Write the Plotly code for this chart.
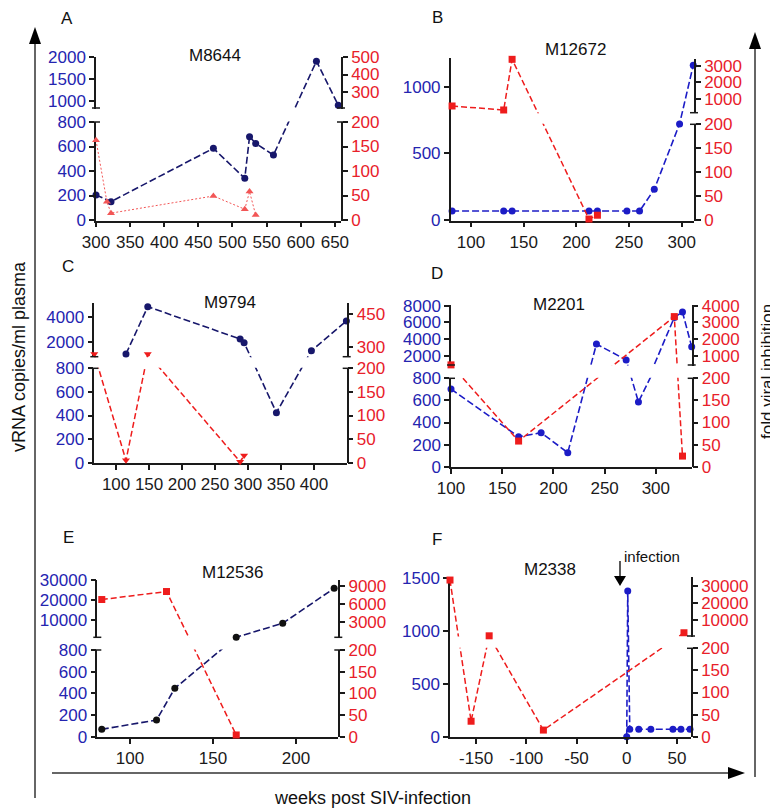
import plotly.graph_objects as go

# page size and the page's default body offset
W, H = 778, 811
OX, OY = 8, 8
FW, FH = W - OX, H - OY

# ---------------- data ----------------
# Panel A  M8644
a_weeks_vrna = [300, 322, 472, 518, 525, 534, 560, 623, 655]
a_vrna = [205, 150, 585, 340, 680, 625, 530, 1905, 905]
a_weeks_fold = [300, 316, 322, 472, 518, 525, 534]
a_fold = [163, 37, 14, 49, 22, 58, 10]
# Panel B  M12672
b_weeks_vrna = [82, 131, 139, 212, 220, 248, 260, 274, 298, 311]
b_vrna = [67, 67, 67, 67, 67, 67, 67, 230, 720, 1160]
b_weeks_fold = [82, 131, 139, 212, 220]
b_fold = [580, 340, 3380, 2, 10]
# Panel C  M9794
c_weeks_vrna = [115, 148, 288, 294, 343, 396, 449]
c_vrna = [1050, 4790, 2240, 1945, 424, 1310, 3660]
c_weeks_fold = [67, 115, 148, 288, 294]
c_fold = [266, 5, 266, 2, 15]
# Panel D  M2201
d_weeks_vrna = [100, 166, 188, 214, 242, 271, 283, 318, 326, 335]
d_vrna = [703, 271, 308, 127, 3430, 1530, 586, 6600, 7240, 3110]
d_weeks_fold = [100, 166, 318, 326]
d_fold = [470, 58, 3350, 24]
# Panel E  M12536
e_weeks_vrna = [83, 116, 127, 164, 192, 223]
e_vrna = [68, 154, 447, 1400, 8350, 25850]
e_weeks_fold = [83, 122, 164]
e_fold = [6725, 8070, 4]
# Panel F  M2338
f_weeks_vrna = [0, 1, 3, 12, 24, 46, 54, 63]
f_vrna = [0, 1380, 70, 70, 70, 70, 70, 70]
f_weeks_fold = [-176, -155, -137, -83, 57]
f_fold = [33500, 35, 700, 15, 2500]

# tick labels
a_xticks = [300, 350, 400, 450, 500, 550, 600, 650]
a_lticks = [[0, 200, 400, 600, 800], [1000, 1500, 2000]]
a_rticks = [[0, 50, 100, 150, 200], [300, 400, 500]]
b_xticks = [100, 150, 200, 250, 300]
b_lticks = [[0, 500, 1000]]
b_rticks = [[0, 50, 100, 150, 200], [1000, 2000, 3000]]
c_xticks = [100, 150, 200, 250, 300, 350, 400]
c_lticks = [[0, 200, 400, 600, 800], [2000, 4000]]
c_rticks = [[0, 50, 100, 150, 200], [300, 450]]
d_xticks = [100, 150, 200, 250, 300]
d_lticks = [[0, 200, 400, 600, 800], [2000, 4000, 6000, 8000]]
d_rticks = [[0, 50, 100, 150, 200], [1000, 2000, 3000, 4000]]
e_xticks = [100, 150, 200]
e_lticks = [[0, 200, 400, 600, 800], [10000, 20000, 30000]]
e_rticks = [[0, 50, 100, 150, 200], [3000, 6000, 9000]]
f_xticks = [-150, -100, -50, 0, 50]
f_lticks = [[0, 500, 1000, 1500]]
f_rticks = [[0, 50, 100, 150, 200], [10000, 20000, 30000]]

titles = ["M8644", "M12672", "M9794", "M2201", "M12536", "M2338"]
letters = ["A", "B", "C", "D", "E", "F"]

# ---------------- styles ----------------
NAVY = "#17176b"
BLUE = "#1c1cc6"
RED = "#ee1c1c"
LRED = "#f25656"
LBL_BLUE = "#2424b0"
LBL_RED = "#e8202a"
AX = "#1a1a1a"
FONT = "Liberation Sans, Arial, sans-serif"
FS = 17

# panel geometry (page pixels): axis x positions, x range, and y segments
# segment = (vmin, vmax, px_bottom, px_top)
panels = [
    dict(xl=96, xr=341, xrange=[300, 659], xt=a_xticks,
         lseg=[(0, 800, 220, 122), (841, 2000, 108, 57)], lt=a_lticks,
         rseg=[(0, 200, 220, 122), (209, 500, 108, 57)], rt=a_rticks,
         bx=a_weeks_vrna, by=a_vrna, rx=a_weeks_fold, ry=a_fold,
         bline=NAVY, bmark=NAVY, rline=LRED, rmark=LRED, rsym="triangle-up",
         rdash="2px,2px", rwidth=1.0,
         letter=(67, 18), title=(215, 55)),
    dict(xl=450.7, xr=694, xrange=[80.7, 311.7], xt=b_xticks,
         lseg=[(0, 1214, 220, 58)], lt=b_lticks,
         rseg=[(0, 200, 220, 124.3), (177, 3400, 112.7, 59)], rt=b_rticks,
         bx=b_weeks_vrna, by=b_vrna, rx=b_weeks_fold, ry=b_fold,
         bline=BLUE, bmark=BLUE, rline=RED, rmark=RED, rsym="square",
         rdash="6px,3px", rwidth=1.5,
         letter=(437, 17), title=(575, 50)),
    dict(xl=94.3, xr=346.7, xrange=[67, 449.5], xt=c_xticks,
         lseg=[(0, 800, 462.7, 368.3), (838, 5059, 356.7, 303.3)], lt=c_lticks,
         rseg=[(0, 200, 462.7, 368.3), (254, 499, 356.7, 303.3)], rt=c_rticks,
         bx=c_weeks_vrna, by=c_vrna, rx=c_weeks_fold, ry=c_fold,
         bline=NAVY, bmark=NAVY, rline=RED, rmark=RED, rsym="triangle-down",
         rdash="6px,3px", rwidth=1.5,
         letter=(68, 267), title=(230, 302)),
    dict(xl=451, xr=691.7, xrange=[100, 335], xt=d_xticks,
         lseg=[(0, 800, 466.7, 378.3), (926, 8083, 365, 305)], lt=d_lticks,
         rseg=[(0, 200, 466.7, 378.3), (463, 4042, 365, 305)], rt=d_rticks,
         bx=d_weeks_vrna, by=d_vrna, rx=d_weeks_fold, ry=d_fold,
         bline=BLUE, bmark=BLUE, rline=RED, rmark=RED, rsym="square",
         rdash="6px,3px", rwidth=1.5,
         letter=(437, 273), title=(559, 305)),
    dict(xl=97.3, xr=338.3, xrange=[80.3, 225.5], xt=e_xticks,
         lseg=[(0, 800, 736.7, 650), (1350, 30000, 637.3, 580)], lt=e_lticks,
         rseg=[(0, 200, 736.7, 650), (378, 10008, 637.3, 580)], rt=e_rticks,
         bx=e_weeks_vrna, by=e_vrna, rx=e_weeks_fold, ry=e_fold,
         bline=NAVY, bmark="#111111", rline=RED, rmark=RED, rsym="square",
         rdash="6px,3px", rwidth=1.5,
         letter=(68, 537), title=(232, 572)),
    dict(xl=450, xr=691, xrange=[-176, 64], xt=f_xticks,
         lseg=[(0, 1510, 736.7, 577.3)], lt=f_lticks,
         rseg=[(0, 200, 736.7, 648.3), (588, 35118, 636, 577.3)], rt=f_rticks,
         bx=f_weeks_vrna, by=f_vrna, rx=f_weeks_fold, ry=f_fold,
         bline=BLUE, bmark=BLUE, rline=RED, rmark=RED, rsym="square",
         rdash="6px,3px", rwidth=1.5,
         letter=(437, 539), title=(550, 569)),
]


def PX(x):  # page x pixel -> paper fraction
    return (x - OX) / FW


def PY(y):  # page y pixel -> paper fraction
    return 1 - (y - OY) / FH


def seg_index(v, segs):
    if len(segs) == 1 or v <= segs[0][1]:
        return 0
    return 1


def to_disp(v, segs):
    vmin, vmax, pb, pt = segs[seg_index(v, segs)]
    py = pb - (v - vmin) / (vmax - vmin) * (pb - pt)
    return FH - (py - OY)


fig = go.Figure()
layout = {}
shapes = []
annotations = []
ycount = [0]


def new_y(seg, side, xid, ticks, segs, color):
    ycount[0] += 1
    n = ycount[0]
    name = "yaxis" if n == 1 else f"yaxis{n}"
    _, _, pb, pt = seg
    e = 0.5
    lo = FH - (pb - OY) - e
    hi = FH - (pt - OY) + e
    layout[name] = dict(
        domain=[lo / FH, hi / FH], range=[lo, hi],
        anchor=xid, side=side, automargin=False,
        tickmode="array",
        tickvals=[to_disp(t, segs) for t in ticks],
        ticktext=[str(t) for t in ticks],
        showline=True, linecolor=AX, linewidth=1.5,
        ticks="outside", ticklen=5, tickwidth=1.5, tickcolor=AX,
        tickfont=dict(color=color, size=FS, family=FONT),
        showgrid=False, zeroline=False, fixedrange=True,
    )
    return "y" if n == 1 else f"y{n}"


def px_line(x0, y0, x1, y1, w=1.5, color=AX):
    shapes.append(dict(type="line", xref="paper", yref="paper",
                       x0=PX(x0), y0=PY(y0), x1=PX(x1), y1=PY(y1),
                       line=dict(color=color, width=w)))


def px_tri(pts, color="#000000"):
    d = "M " + " L ".join(f"{PX(a)} {PY(b)}" for a, b in pts) + " Z"
    shapes.append(dict(type="path", xref="paper", yref="paper", path=d,
                       fillcolor=color, line=dict(width=0)))


def px_text(text, x, y, size=FS, angle=0, xanchor="center"):
    annotations.append(dict(text=text, x=PX(x), y=PY(y), xref="paper",
                            yref="paper", showarrow=False, textangle=angle,
                            xanchor=xanchor, yanchor="middle",
                            font=dict(size=size, color="#111111", family=FONT)))


for i, p in enumerate(panels):
    xid = "x" if i == 0 else f"x{i + 1}"
    xname = "xaxis" if i == 0 else f"xaxis{i + 1}"
    lids = [new_y(s, "left", xid, p["lt"][k], p["lseg"], LBL_BLUE)
            for k, s in enumerate(p["lseg"])]
    rids = [new_y(s, "right", xid, p["rt"][k], p["rseg"], LBL_RED)
            for k, s in enumerate(p["rseg"])]
    layout[xname] = dict(
        domain=[PX(p["xl"]), PX(p["xr"])], range=p["xrange"], anchor=lids[0],
        automargin=False,
        tickmode="array", tickvals=p["xt"], ticktext=[str(t) for t in p["xt"]],
        showline=True, linecolor=AX, linewidth=1.5,
        ticks="outside", ticklen=5, tickwidth=1.5, tickcolor=AX,
        tickfont=dict(color="#1a1a1a", size=FS, family=FONT),
        showgrid=False, zeroline=False, fixedrange=True,
    )

    series = [
        (p["bx"], p["by"], p["lseg"], lids, p["bline"], p["bmark"], "circle",
         "7px,3px", 1.6),
        (p["rx"], p["ry"], p["rseg"], rids, p["rline"], p["rmark"], p["rsym"],
         p["rdash"], p["rwidth"]),
    ]
    for xs, vs, segs, ids, lcol, mcol, sym, dash, lw in series:
        disp = [to_disp(v, segs) for v in vs]
        for yid in ids:
            fig.add_trace(go.Scatter(
                x=xs, y=disp, mode="lines", xaxis=xid, yaxis=yid,
                line=dict(color=lcol, width=lw, dash=dash),
                hoverinfo="skip", showlegend=False))
        for k, yid in enumerate(ids):
            mx = [x for x, v in zip(xs, vs) if seg_index(v, segs) == k]
            my = [d for d, v in zip(disp, vs) if seg_index(v, segs) == k]
            fig.add_trace(go.Scatter(
                x=mx, y=my, mode="markers", xaxis=xid, yaxis=yid,
                cliponaxis=False,
                marker=dict(color=mcol, size=7, symbol=sym, line=dict(width=0)),
                showlegend=False))

    for segs, xa in ((p["lseg"], p["xl"]), (p["rseg"], p["xr"])):
        if len(segs) == 2:
            px_line(xa - 4, segs[0][3], xa + 4, segs[0][3])
            px_line(xa - 4, segs[1][2], xa + 4, segs[1][2])

    px_text(letters[i], *p["letter"])
    px_text(titles[i], *p["title"])

# infection marker (panel F)
px_text("infection", 622, 556.7, size=15, xanchor="left")
px_line(620, 561, 620, 576, w=1.3, color="#000000")
px_tri([(614, 576), (626, 576), (620, 586)])

# frame arrows
px_line(35, 798, 35, 40, w=1.5, color="#333333")
px_tri([(29, 44), (41, 44), (35, 27)])
px_line(52, 773, 730, 773, w=1.5, color="#333333")
px_tri([(728, 767), (728, 779), (745, 773)])
px_line(755, 777, 755, 45, w=1.5, color="#333333")
px_tri([(749, 49), (761, 49), (755, 32)])

px_text("vRNA copies/ml plasma", 19, 357, size=18, angle=-90)
px_text("fold viral inhibition", 767, 372, size=17, angle=-90)
px_text("weeks post SIV-infection", 372, 798, size=18)

fig.update_layout(
    template="none",
    width=FW, height=FH, margin=dict(l=0, r=0, t=0, b=0, autoexpand=False),
    paper_bgcolor="white", plot_bgcolor="rgba(0,0,0,0)",
    font=dict(family=FONT, size=FS), showlegend=False,
    shapes=shapes, annotations=annotations, **layout)

fig.write_html("out.html", config={"displayModeBar": False})
